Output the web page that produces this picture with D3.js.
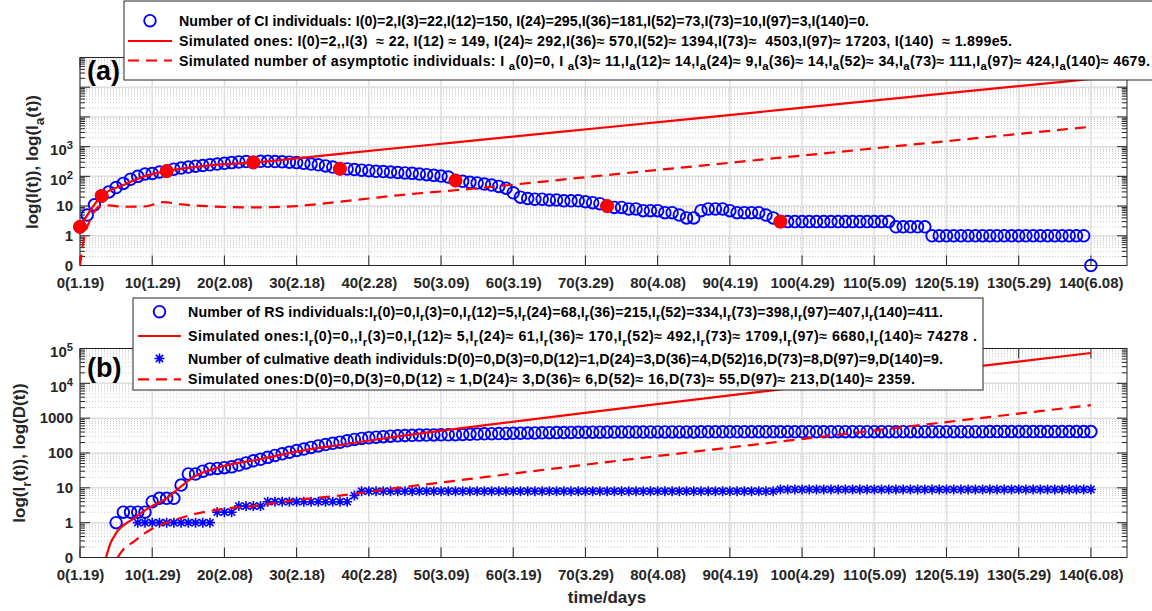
<!DOCTYPE html>
<html><head><meta charset="utf-8">
<script src="https://cdnjs.cloudflare.com/ajax/libs/d3/7.8.5/d3.min.js"></script>
<style>
body{margin:0;background:#fff}
svg{display:block}
text{font-family:'Liberation Sans',Arial,Helvetica,sans-serif;font-weight:bold;white-space:pre}
</style>
</head><body>
<svg id="c" width="1152" height="611"></svg>
<script>
// ---------------- data ----------------
const xTickValues = [0,10,20,30,40,50,60,70,80,90,100,110,120,130,140];
const xTickLabels = ["0(1.19)","10(1.29)","20(2.08)","30(2.18)","40(2.28)","50(3.09)","60(3.19)","70(3.29)","80(4.08)","90(4.19)","100(4.29)","110(5.09)","120(5.19)","130(5.29)","140(6.08)"];
const yTickValuesA = [-1,0,1,2,3];
const yTickLabelsA = ["0","1","10","10^2","10^3"];
const yTickValuesB = [-1,0,1,2,3,4,5];
const yTickLabelsB = ["0","1","10","100","1000","10^4","10^5"];

// confirmed infected (CI) individuals, one value per day from day 0
const ciStartDay = 0;
const ciValues = [
  2,5,11,22,30,42,58,80,100,120,
  125,140,150,175,190,205,220,232,245,260,
  275,290,305,315,295,320,320,315,310,300,
  290,275,260,245,225,205,181,178,170,162,
  155,148,145,140,135,130,126,120,114,108,
  102,95,73,68,63,60,55,51,46,40,
  28,20,18,17,17,16,16,15,15,15,
  14,13,12,10,9,9,8,8,7,7,
  7,6,6,5,4,4,7,8,8,8,
  7,6,6,6,6,5,4,3,3,3,
  3,3,3,3,3,3,3,3,3,3,
  3,3,3,2,2,2,2,2,1,1,
  1,1,1,1,1,1,1,1,1,1,
  1,1,1,1,1,1,1,1,1,1,
  0];
const markerDays = [0,3,12,24,36,52,73,97];
const markerValues = [2,22,150,295,181,73,10,3];

const simIDays   = [0,3,6,9,12,18,24,30,36,44,52,73,97,140];
const simIValues = [2,22,51,102,149,235,292,400,570,900,1394,4503,17203,189900];
const simIaDays   = [0,0.5,1.4,2.8,4,6,9,11.5,14,18,24,30,36,40,44,52,73,97,140];
const simIaValues = [0,0.7,3.4,10,10.5,9.5,9.7,13.5,11.5,9.8,9,10,14,18,23,34,111,424,4679];

// recovered (RS) individuals, one value per day from day 5
const rsStartDay = 5;
const rsValues = [
  1,2,2,2,2,
  4,5,5,5,12,25,25,30,35,36,
  38,40,45,52,60,66,75,85,95,105,
  118,130,145,160,175,190,205,225,245,262,
  275,285,295,305,312,318,322,326,328,330,
  332,333,334,340,345,350,355,358,362,365,
  368,372,375,378,380,383,385,388,390,392,
  394,396,397,398,399,400,400,401,401,402,
  402,403,403,403,404,404,405,405,405,406,
  406,406,406,407,407,407,407,407,407,408,
  408,408,408,408,408,409,409,409,409,409,
  409,409,409,410,410,410,410,410,410,410,
  410,410,410,410,410,410,411,411,411,411,
  411,411,411,411,411,411,411,411,411,411,
  411];
// cumulative deaths, one value per day from day 8
const deathStartDay = 8;
const deathValues = [
  1,1,1,1,1,1,1,1,1,1,
  1,2,2,2,3,3,3,3,4,4,
  4,4,4,4,4,4,4,4,4,4,
  6,8,8,8,8,8,8,8,8,8,
  8,8,8,8,8,8,8,8,8,8,
  8,8,8,8,8,8,8,8,8,8,
  8,8,8,8,8,8,8,8,8,8,
  8,8,8,8,8,8,8,8,8,8,
  8,8,8,8,8,8,8,8,8,9,
  9,9,9,9,9,9,9,9,9,9,
  9,9,9,9,9,9,9,9,9,9,
  9,9,9,9,9,9,9,9,9,9,
  9,9,9,9,9,9,9,9,9,9,
  9,9,9];
const simIrDays   = [3.6,4.2,5,7.4,9.7,12,14,16,18.5,21,24,30,36,44,52,73,97,140];
const simIrValues = [0,0.25,0.5,1.3,2.8,5,11,22,35,48,61,110,170,300,492,1709,6680,74278];
const simDDays   = [5.2,6,7.4,9,11,12,16,20,24,30,36,44,52,73,97,140];
const simDValues = [0,0.17,0.28,0.5,0.85,1,1.8,2.5,3,4.5,6,10,16,55,213,2359];

const legendA = [
  "Number of CI individuals: I(0)=2,I(3)=22,I(12)=150, I(24)=295,I(36)=181,I(52)=73,I(73)=10,I(97)=3,I(140)=0.",
  "Simulated ones: I(0)=2,,I(3)  \u2248 22, I(12) \u2248 149, I(24)\u2248 292,I(36)\u2248 570,I(52)\u2248 1394,I(73)\u2248  4503,I(97)\u2248 17203, I(140)  \u2248 1.899e5.",
  "Simulated number of asymptotic individuals: I _a(0)=0, I _a(3)\u2248 11,I_a(12)\u2248 14,I_a(24)\u2248 9,I_a(36)\u2248 14,I_a(52)\u2248 34,I_a(73)\u2248 111,I_a(97)\u2248 424,I_a(140)\u2248 4679."
];
const legendB = [
  "Number of RS individuals:I_r(0)=0,I_r(3)=0,I_r(12)=5,I_r(24)=68,I_r(36)=215,I_r(52)=334,I_r(73)=398,I_r(97)=407,I_r(140)=411.",
  "Simulated ones:I_r(0)=0,,I_r(3)=0,I_r(12)\u2248 5,I_r(24)\u2248 61,I_r(36)\u2248 170,I_r(52)\u2248 492,I_r(73)\u2248 1709,I_r(97)\u2248 6680,I_r(140)\u2248 74278 .",
  "Number of culmative death individuls:D(0)=0,D(3)=0,D(12)=1,D(24)=3,D(36)=4,D(52)16,D(73)=8,D(97)=9,D(140)=9.",
  "Simulated ones:D(0)=0,D(3)=0,D(12) \u2248 1,D(24)\u2248 3,D(36)\u2248 6,D(52)\u2248 16,D(73)\u2248 55,D(97)\u2248 213,D(140)\u2248 2359."
];

// ---------------- drawing ----------------
const svg = d3.select("#c");
const AX = "#262626", BLUE = "#0000ff", RED = "#ff0000";
const lp = v => v <= 0 ? -1 : Math.max(-1, Math.log10(v));
const x = d3.scaleLinear().domain([0,145]).range([80,1127]);
const yA = d3.scaleLinear().domain([-1,6]).range([265.5,57.5]);
const yB = d3.scaleLinear().domain([-1,5]).range([557.5,348.5]);

function richText(sel, str, fs){
  const parts = str.split(/(_.|\^.)/);
  let shift = 0;
  parts.forEach(p=>{
    if(!p) return;
    if(p.length===2 && p[0]==='_'){
      sel.append("tspan").attr("dy", fs*0.33).attr("font-size", fs*0.8).text(p[1]);
      shift = fs*0.33;
    } else if(p.length===2 && p[0]==='^'){
      sel.append("tspan").attr("dy", -fs*0.42).attr("font-size", fs*0.75).text(p[1]);
      shift = -fs*0.42;
    } else {
      const t = sel.append("tspan").text(p);
      if(shift){ t.attr("dy", -shift); shift = 0; }
    }
  });
}

function panel(y, id, yTickValues, yTickLabels){
  const [d0,d1] = y.domain();
  const top = y(d1), bot = y(d0), left = x.range()[0], right = x.range()[1];
  const g = svg.append("g");
  g.append("rect").attr("x",left).attr("y",top).attr("width",right-left).attr("height",bot-top).attr("fill","#fff");
  const minor = [];
  for(let d=d0; d<d1; d++) for(let k=2;k<=9;k++) minor.push(d+Math.log10(k));
  g.selectAll(".mg").data(minor).join("line")
    .attr("x1",left).attr("x2",right).attr("y1",d=>y(d)).attr("y2",d=>y(d))
    .attr("stroke","#c8c8c8").attr("stroke-width",1).attr("stroke-dasharray","1,2");
  const majors = d3.range(d0+1, d1+1);
  g.selectAll(".Mg").data(majors).join("line")
    .attr("x1",left).attr("x2",right).attr("y1",d=>y(d)).attr("y2",d=>y(d))
    .attr("stroke","#dedede").attr("stroke-width",1.5);
  g.selectAll(".Vg").data(xTickValues).join("line")
    .attr("x1",d=>x(d)).attr("x2",d=>x(d)).attr("y1",top).attr("y2",bot)
    .attr("stroke","#dedede").attr("stroke-width",1.5);
  const tk = g.append("g").attr("stroke",AX).attr("stroke-width",1);
  xTickValues.forEach(v=>{
    tk.append("line").attr("x1",x(v)).attr("x2",x(v)).attr("y1",bot).attr("y2",bot-10);
    tk.append("line").attr("x1",x(v)).attr("x2",x(v)).attr("y1",top).attr("y2",top+10);
  });
  d3.range(d0, d1+1).forEach(v=>{
    tk.append("line").attr("x1",left).attr("x2",left+10).attr("y1",y(v)).attr("y2",y(v));
    tk.append("line").attr("x1",right).attr("x2",right-10).attr("y1",y(v)).attr("y2",y(v));
  });
  minor.forEach(v=>{
    tk.append("line").attr("x1",left).attr("x2",left+5).attr("y1",y(v)).attr("y2",y(v));
    tk.append("line").attr("x1",right).attr("x2",right-5).attr("y1",y(v)).attr("y2",y(v));
  });
  const xa = g.append("g").attr("transform",`translate(0,${bot})`)
    .call(d3.axisBottom(x).tickValues(xTickValues).tickFormat((d,i)=>xTickLabels[i]).tickSize(0).tickPadding(12));
  xa.select(".domain").remove();
  xa.selectAll("text").attr("font-size",15).attr("fill",AX).attr("font-family",null);
  const ya = g.append("g").attr("transform",`translate(${left},0)`)
    .call(d3.axisLeft(y).tickValues(yTickValues).tickFormat((d,i)=>yTickLabels[i]).tickSize(0).tickPadding(7));
  ya.select(".domain").remove();
  ya.selectAll("text").attr("font-size",15).attr("fill",AX).attr("font-family",null)
    .each(function(d,i){
      const s = yTickLabels[i];
      if(s.includes("^")){ const t=d3.select(this); t.text(null); t.attr("dy","0.55em"); richText(t,s,15); }
    });
  g.append("rect").attr("x",left).attr("y",top).attr("width",right-left).attr("height",bot-top)
    .attr("fill","none").attr("stroke",AX).attr("stroke-width",1);
  svg.append("clipPath").attr("id",id).append("rect")
    .attr("x",left).attr("y",top).attr("width",right-left).attr("height",bot-top);
  return g;
}

const gA = panel(yA, "clipA", yTickValuesA, yTickLabelsA);
const gB = panel(yB, "clipB", yTickValuesB, yTickLabelsB);

const lineGen = y => d3.line().x(d=>x(d[0])).y(d=>y(lp(d[1]))).curve(d3.curveMonotoneX);
const zip = (a,b) => a.map((v,i)=>[v,b[i]]);

// ---- panel (a) marks ----
const ciData = ciValues.map((v,i)=>[ciStartDay+i, v]);
gA.append("g").selectAll("circle").data(ciData).join("circle")
  .attr("cx",d=>x(d[0])).attr("cy",d=>yA(lp(d[1]))).attr("r",5.8)
  .attr("fill","none").attr("stroke",BLUE).attr("stroke-width",1.9);
const clA = gA.append("g").attr("clip-path","url(#clipA)");
clA.append("path").datum(zip(simIDays,simIValues)).attr("d",lineGen(yA))
  .attr("fill","none").attr("stroke",RED).attr("stroke-width",2.2);
clA.append("path").datum(zip(simIaDays,simIaValues)).attr("d",lineGen(yA))
  .attr("fill","none").attr("stroke",RED).attr("stroke-width",2.2).attr("stroke-dasharray","11,7");
gA.append("g").selectAll("circle").data(zip(markerDays,markerValues)).join("circle")
  .attr("cx",d=>x(d[0])).attr("cy",d=>yA(lp(d[1]))).attr("r",6.5)
  .attr("fill",RED).attr("stroke",RED);

// ---- panel (b) marks ----
const rsData = rsValues.map((v,i)=>[rsStartDay+i, v]);
gB.append("g").selectAll("circle").data(rsData).join("circle")
  .attr("cx",d=>x(d[0])).attr("cy",d=>yB(lp(d[1]))).attr("r",5.8)
  .attr("fill","none").attr("stroke",BLUE).attr("stroke-width",1.9);
const clB = gB.append("g").attr("clip-path","url(#clipB)");
clB.append("path").datum(zip(simIrDays,simIrValues)).attr("d",lineGen(yB))
  .attr("fill","none").attr("stroke",RED).attr("stroke-width",2.2);
const star = "M-5,0H5M0,-5V5M-3.6,-3.6L3.6,3.6M-3.6,3.6L3.6,-3.6";
const dData = deathValues.map((v,i)=>[deathStartDay+i, v]);
gB.append("g").selectAll("path").data(dData).join("path")
  .attr("transform",d=>`translate(${x(d[0])},${yB(lp(d[1]))})`).attr("d",star)
  .attr("fill","none").attr("stroke",BLUE).attr("stroke-width",1.6);
const clB2 = gB.append("g").attr("clip-path","url(#clipB)");
clB2.append("path").datum(zip(simDDays,simDValues)).attr("d",lineGen(yB))
  .attr("fill","none").attr("stroke",RED).attr("stroke-width",2.2).attr("stroke-dasharray","11,7");

// ---- labels ----
svg.append("text").attr("x",87).attr("y",80).attr("font-size",27).attr("fill","#000").text("(a)");
svg.append("text").attr("x",87).attr("y",377).attr("font-size",27).attr("fill","#000").text("(b)");
const yla = svg.append("text").attr("transform","translate(32,162) rotate(-90)").attr("text-anchor","middle")
  .attr("dy","0.35em").attr("font-size",17).attr("fill",AX);
richText(yla,"log(I(t)), log(I_a(t))",17);
const ylb = svg.append("text").attr("transform","translate(19,453) rotate(-90)").attr("text-anchor","middle")
  .attr("dy","0.35em").attr("font-size",17).attr("fill",AX);
richText(ylb,"log(I_r(t)), log(D(t))",17);
svg.append("text").attr("x",607).attr("y",603).attr("text-anchor","middle").attr("font-size",17).attr("fill",AX).text("time/days");

// ---- legends ----
function legend(box, rows, textX, mx0, mx1){
  const g = svg.append("g");
  g.append("rect").attr("x",box[0]).attr("y",box[1]).attr("width",box[2]-box[0]).attr("height",box[3]-box[1])
    .attr("fill","#fff").attr("stroke",AX).attr("stroke-width",1);
  rows.forEach(r=>{
    const cx = (mx0+mx1)/2;
    if(r.kind==="circle") g.append("circle").attr("cx",cx).attr("cy",r.y).attr("r",5.8).attr("fill","none").attr("stroke",BLUE).attr("stroke-width",1.9);
    if(r.kind==="line") g.append("line").attr("x1",mx0).attr("x2",mx1).attr("y1",r.y).attr("y2",r.y).attr("stroke",RED).attr("stroke-width",2.2);
    if(r.kind==="dash") g.append("line").attr("x1",mx0).attr("x2",mx1).attr("y1",r.y).attr("y2",r.y).attr("stroke",RED).attr("stroke-width",2.2).attr("stroke-dasharray","11,7");
    if(r.kind==="star") g.append("path").attr("transform",`translate(${cx},${r.y})`).attr("d",star).attr("fill","none").attr("stroke",BLUE).attr("stroke-width",1.6);
    const t = g.append("text").attr("x",textX).attr("y",r.y+5).attr("font-size",14.2).attr("fill","#000")
      .attr("textLength", r.end - textX).attr("lengthAdjust","spacing");
    richText(t, r.text, 14.2);
  });
}
legend([124,1,1160,80], [
  {kind:"circle", y:20.7, text:legendA[0], end:869},
  {kind:"line", y:41, text:legendA[1], end:1012},
  {kind:"dash", y:60.5, text:legendA[2], end:1150}
], 179, 128, 172);
legend([133,298,983,390], [
  {kind:"circle", y:311.7, text:legendB[0], end:943},
  {kind:"line", y:336, text:legendB[1], end:977},
  {kind:"star", y:358.5, text:legendB[2], end:943},
  {kind:"dash", y:379.3, text:legendB[3], end:915}
], 188, 138, 181);
</script>
</body></html>
